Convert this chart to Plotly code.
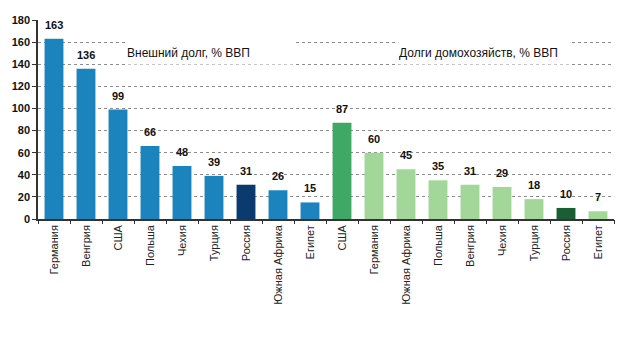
import plotly.graph_objects as go

categories = ["Германия", "Венгрия", "США", "Польша", "Чехия", "Турция", "Россия", "Южная Африка", "Египет",
              "США", "Германия", "Южная Африка", "Польша", "Венгрия", "Чехия", "Турция", "Россия", "Египет"]
values = [163, 136, 99, 66, 48, 39, 31, 26, 15,
          87, 60, 45, 35, 31, 29, 18, 10, 7]
colors = ["#1C84BD"] * 6 + ["#0B3A6E"] + ["#1C84BD"] * 2 + \
         ["#3FA865"] + ["#A3D79A"] * 6 + ["#1A5E35"] + ["#A3D79A"]
y_ticks = [0, 20, 40, 60, 80, 100, 120, 140, 160, 180]
group_titles = ["Внешний долг, % ВВП", "Долги домохозяйств, % ВВП"]

xs = list(range(len(categories)))
FONT = "Liberation Sans, Arial, sans-serif"

fig = go.Figure()
fig.add_trace(go.Bar(x=xs, y=values, marker=dict(color=colors, line=dict(width=0)),
                     width=0.59, showlegend=False, hoverinfo="skip"))

fig.add_annotation(x=4.9, y=150, text=group_titles[0], showarrow=False, xanchor="center",
                   width=168, height=22, align="left", bgcolor="white", borderpad=0,
                   font=dict(family=FONT, size=12, color="#111111"))
fig.add_annotation(x=13.45, y=150, text=group_titles[1], showarrow=False, xanchor="center",
                   width=170, height=22, align="left", bgcolor="white", borderpad=0,
                   font=dict(family=FONT, size=12, color="#111111"))

for x, v in zip(xs, values):
    fig.add_annotation(x=x, y=v, text=str(v), showarrow=False, xanchor="center", yanchor="bottom",
                       yshift=7, borderpad=0,
                       font=dict(family=FONT, size=11, color="#111111", weight="bold"))

n = len(categories)
fig.update_layout(
    width=628, height=352,
    margin=dict(l=30, r=14, t=20, b=133),
    plot_bgcolor="white", paper_bgcolor="white",
    font=dict(family=FONT, color="#111111"),
    xaxis=dict(range=[-0.5, n - 0.5], tickmode="array", tickvals=xs, ticktext=categories,
               tickangle=-90, ticks="", showgrid=False, showline=True, linecolor="#333333",
               linewidth=1.5, tickfont=dict(family=FONT, size=11, color="#222222"), zeroline=False),
    xaxis2=dict(range=[-0.5, n - 0.5], overlaying="x", anchor="y", side="bottom",
                tickmode="array", tickvals=[i - 0.5 for i in range(n + 1)],
                ticktext=[""] * (n + 1), ticks="outside", ticklen=4, tickcolor="#333333",
                showgrid=False, showline=False, zeroline=False),
    yaxis=dict(range=[0, 180], tickmode="array", tickvals=y_ticks, ticks="outside", ticklen=4,
               tickcolor="#333333", showline=True, linecolor="#333333", linewidth=1.5,
               showgrid=True, gridcolor="#8C8C8C", griddash="3px,3px", gridwidth=1,
               zeroline=False, tickfont=dict(family=FONT, size=11, color="#111111", weight="bold")),
)
fig.add_trace(go.Scatter(x=[None], y=[None], xaxis="x2", showlegend=False, hoverinfo="skip"))

fig.write_html("out.html")
